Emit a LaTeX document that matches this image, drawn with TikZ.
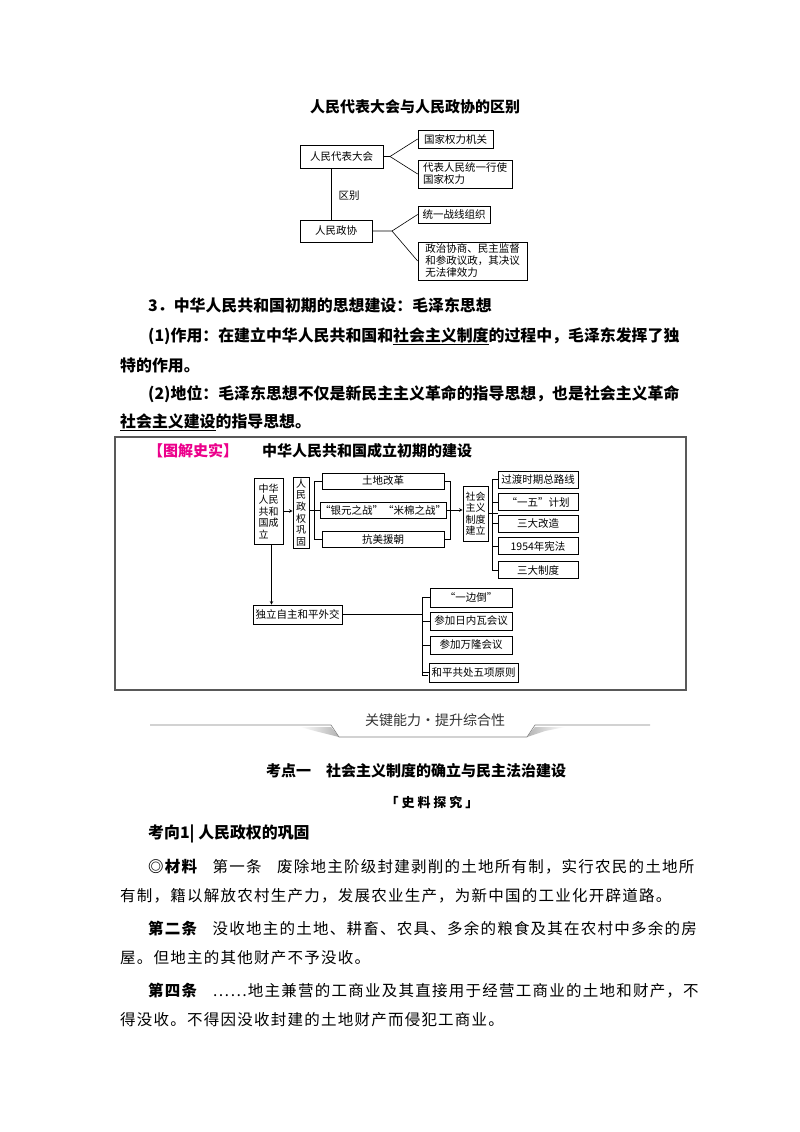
\documentclass[tikz,border=0pt]{standalone}
\usepackage{fontspec}
\setmainfont{Noto Sans CJK SC}
\newfontfamily\matfont[LetterSpace=8]{Noto Sans CJK SC}
\begin{document}
\begin{tikzpicture}[x=1pt,y=-1pt,
  bx/.style={draw,line width=0.7pt,inner sep=0pt,align=center,font=\fontsize{10.5}{12}\selectfont},
  ln/.style={line width=0.6pt},
  txt/.style={anchor=west,inner sep=0pt,font=\fontsize{15.9}{17}\selectfont\bfseries},
  mat/.style={anchor=west,inner sep=0pt,font=\matfont\fontsize{15.5}{17}\selectfont}]
\useasboundingbox (0,0) rectangle (800,1132);
\fill[white] (0,0) rectangle (800,1132);
% top diagram
\node[font=\fontsize{15}{17}\selectfont\bfseries] (t1) at (415,107) {人民代表大会与人民政协的区别};
\node[bx,minimum width=83,minimum height=23] (A) at (341.5,156.5) {人民代表大会};
\node[bx,minimum width=72,minimum height=22] (B) at (336,231) {人民政协};
\node[bx,minimum width=75,minimum height=18,align=left] (C1) at (455.5,139) {国家权力机关};
\node[bx,minimum width=94,minimum height=28,align=left] (C2) at (465,174) {代表人民统一行使\\国家权力};
\node[bx,minimum width=72,minimum height=17,align=left] (D1) at (454,214.5) {统一战线组织};
\node[bx,minimum width=109,minimum height=38,align=left] (D2) at (472.5,261) {政治协商、民主监督\\和参政议政，其决议\\无法律效力};
\coordinate (ja) at (390,156.5);
\coordinate (jb) at (392,231);
\draw[ln] (A.east) -- (ja) -- (C1.west);
\draw[ln] (ja) -- (C2.west);
\draw[ln] (B.east) -- (jb) -- (D1.west);
\draw[ln] (jb) -- (D2.west);
\draw[ln] ([xshift=-10.5pt]A.south) -- ([xshift=-5pt]B.north);
\node[font=\fontsize{10.5}{12}\selectfont] (qb) at (349,196) {区别};
% paragraphs
\node[txt] (p1) at (148,305) {3．中华人民共和国初期的思想建设：毛泽东思想};
\node[txt] (p2) at (148,336) {(1)作用：在建立中华人民共和国和\underline{社会主义制度}的过程中，毛泽东发挥了独};
\node[txt] (p3) at (120,365) {特的作用。};
\node[txt] (p4) at (148,394) {(2)地位：毛泽东思想不仅是新民主主义革命的指导思想，也是社会主义革命};
\node[txt] (p5) at (120,422) {\underline{社会主义建设}的指导思想。};
% frame
\draw[line width=1.2pt,gray!70!black] (115,437) rectangle (686,690);
\node[anchor=west,inner sep=0pt,text=magenta,font=\fontsize{15}{17}\selectfont\bfseries] (t2) at (148,451) {【图解史实】};
\node[anchor=west,inner sep=0pt,font=\fontsize{15}{17}\selectfont\bfseries] (t3) at (262,451) {中华人民共和国成立初期的建设};
\node[bx,minimum width=29,minimum height=66,align=left,font=\fontsize{10}{11.5}\selectfont] (N1) at (268.5,511) {中华\\人民\\共和\\国成\\立};
\node[bx,minimum width=16,minimum height=71,font=\fontsize{10}{11.6}\selectfont] (N2) at (301,512.5) {人\\民\\政\\权\\巩\\固};
\node[bx,minimum width=122,minimum height=16] (M1) at (383,481) {土地改革};
\node[bx,minimum width=122,minimum height=16] (M2) at (383,510) {“银元之战”“米棉之战”};
\node[bx,minimum width=122,minimum height=16] (M3) at (383,539) {抗美援朝};
\node[bx,minimum width=25,minimum height=55,font=\fontsize{10}{11.5}\selectfont] (S) at (475.5,513.5) {社会\\主义\\制度\\建立};
\node[bx,minimum width=80,minimum height=17] (R1) at (538,479.5) {过渡时期总路线};
\node[bx,minimum width=80,minimum height=17] (R2) at (538,502) {“一五”计划};
\node[bx,minimum width=80,minimum height=17] (R3) at (538,523.5) {三大改造};
\node[bx,minimum width=80,minimum height=17] (R4) at (538,546) {1954年宪法};
\node[bx,minimum width=80,minimum height=17] (R5) at (538,570) {三大制度};
\draw[ln,-stealth] (N1.east) -- (N1.east -| N2.west);
\draw[ln] (M1.west) -- ++(-7,0) |- (M3.west);
\draw[ln] (M2.west) -- (N2.east |- M2.west);
\draw[ln] (M1.east) -- ++(6,0) |- (M3.east);
\draw[ln,-stealth] (M2.east) -- (M2.east -| S.west);
\draw[ln] (R1.west) -- ++(-5,0) |- (R5.west);
\draw[ln] (S.east) -- (S.east -| R1.west) ;
\draw[ln] (R2.west) -- ++(-5,0);
\draw[ln] (R3.west) -- ++(-5,0);
\draw[ln] (R4.west) -- ++(-5,0);
\node[bx,minimum width=89,minimum height=19] (F) at (297.5,614.5) {独立自主和平外交};
\node[bx,minimum width=82,minimum height=19] (G1) at (471,597.5) {“一边倒”};
\node[bx,minimum width=82,minimum height=18] (G2) at (471,621) {参加日内瓦会议};
\node[bx,minimum width=82,minimum height=18] (G3) at (471,645) {参加万隆会议};
\node[bx,minimum width=89,minimum height=19] (G4) at (473.5,672.5) {和平共处五项原则};
\draw[ln,-stealth] ([xshift=3pt]N1.south) -- ([xshift=3pt]N1.south |- F.north);
\draw[ln] (G1.west) -- ++(-7,0) |- ([yshift=-3pt]G4.west -| 428,0) ;
\draw[ln] (G4.west) -- ++(-7,0);
\draw[ln] (G2.west) -- ++(-7,0);
\draw[ln] (G3.west) -- ++(-7,0);
\draw[ln] (F.east) -- (F.east -| 423,0);
% banner
\shade[left color=white,right color=gray!60] (300,727) -- (331,727) -- (339,737) -- (315,731) -- cycle;
\shade[left color=gray!60,right color=white] (527,737) -- (535,727) -- (565,727) -- (545,731) -- cycle;
\draw[gray,line width=0.6pt] (150,725) -- (331,725) -- (339,737) -- (527,737) -- (535,725) -- (650,725);
\node[font=\fontsize{14}{16}\selectfont,text=black!80] (bn) at (435,720) {关键能力·提升综合性};
\node[font=\fontsize{15}{17}\selectfont\bfseries] (h1) at (416,771) {考点一\quad 社会主义制度的确立与民主法治建设};
\node[font=\fontsize{13}{15}\selectfont\bfseries] (h2) at (432,803) {「 史 料 探 究 」};
\node[txt] (h3) at (148,834) {考向1| 人民政权的巩固};
\node[mat] (m1) at (148,867) {{\bfseries ◎材料}\quad 第一条\quad 废除地主阶级封建剥削的土地所有制，实行农民的土地所};
\node[mat] (m2) at (120,896) {有制，籍以解放农村生产力，发展农业生产，为新中国的工业化开辟道路。};
\node[mat] (m3) at (148,929) {{\bfseries 第二条}\quad 没收地主的土地、耕畜、农具、多余的粮食及其在农村中多余的房};
\node[mat] (m4) at (120,958) {屋。但地主的其他财产不予没收。};
\node[mat] (m5) at (148,991) {{\bfseries 第四条}\quad ……地主兼营的工商业及其直接用于经营工商业的土地和财产，不};
\node[mat] (m6) at (120,1020) {得没收。不得因没收封建的土地财产而侵犯工商业。};
\end{tikzpicture}
\end{document}
